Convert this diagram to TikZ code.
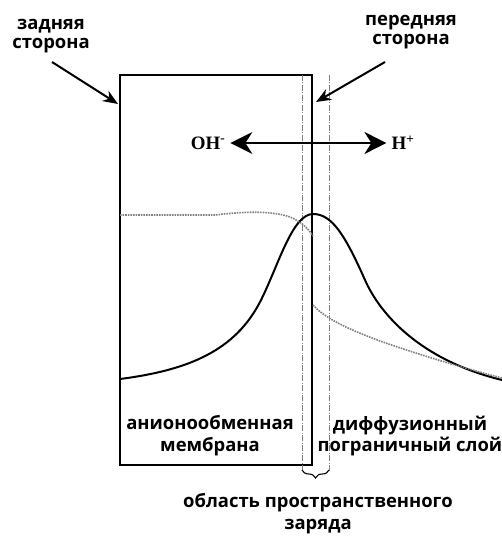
\documentclass[tikz,border=0pt]{standalone}
\usepackage{fontspec}
\setmainfont{Liberation Serif}
\newfontfamily\labelfont{Open Sans}
\usetikzlibrary{positioning,arrows.meta,decorations.pathreplacing}

\begin{document}
\begin{tikzpicture}[
  x=1bp, y=-1bp,
  every node/.style={font=\labelfont\bfseries\fontsize{18.5}{19}\selectfont, text=black},
  lbl/.style={align=center, inner sep=1bp},
  widelbl/.style={lbl, font=\labelfont\bfseries\fontsize{18.5}{22}\selectfont},
  ion/.style={font=\bfseries\fontsize{19}{19}\selectfont, inner sep=5bp},
  pointer/.style={-{Stealth[length=15bp,width=12bp]}, line width=2bp},
  flux/.style={{Stealth[length=22bp,width=22bp,inset=7bp]}-{Stealth[length=22bp,width=22bp,inset=7bp]}, line width=2.4bp},
  bound/.style={gray, line width=0.8bp, dash pattern=on 6bp off 1.5bp on 1bp off 1.5bp},
  conc/.style={line width=2bp},
  concdot/.style={gray, line width=1.6bp, densely dotted}
]
\useasboundingbox (0,0) rectangle (502,536);
% Membrane and space charge region
\draw[line width=2.6bp] (120,75) rectangle (312,465);
\draw[bound] (302,75) -- (302,470);
\draw[bound] (329,75) -- (329,472);
\draw[decorate, decoration={brace, mirror, amplitude=8bp}, line width=1.1bp] (302,470) -- (329,470);
% Concentration profiles
\draw[conc] (120,379) .. controls (190,370) and (235,350) .. (260,302)
  .. controls (278,267) and (292,214) .. (313,214)
  .. controls (332,214) and (345,235) .. (365,280)
  .. controls (380,314) and (420,360) .. (502,380);
\draw[concdot] (120,215) -- (215,215) .. controls (240,212) and (270,210) .. (290,217)
  .. controls (300,221) and (308,228) .. (313,236);
\draw[concdot] (313,305) .. controls (325,318) and (345,328) .. (380,341)
  .. controls (420,355) and (460,367) .. (502,378);
% Side labels
\node[lbl] (back) at (51,36) {задняя\\сторона};
\node[lbl] (front) at (411,32) {передняя\\сторона};
\coordinate (backside) at (118,104);
\coordinate (frontside) at (316,102);
\draw[pointer] (52,62) -- (backside);
\draw[pointer] (385,62) -- (frontside);
% Ion fluxes
\node[ion] (oh) at (208,143) {OH\textsuperscript{-}};
\node[ion] (hplus) at (403,143) {H\textsuperscript{+}};
\draw[flux] (oh) -- (hplus);
% Region labels
\node[widelbl] (membrane) at (210,436) {анионообменная\\мембрана};
\node[widelbl] (layer) at (410,436) {диффузионный\\пограничный слой};
\node[widelbl] (charge) at (318,514) {область пространственного\\заряда};
\end{tikzpicture}
\end{document}
